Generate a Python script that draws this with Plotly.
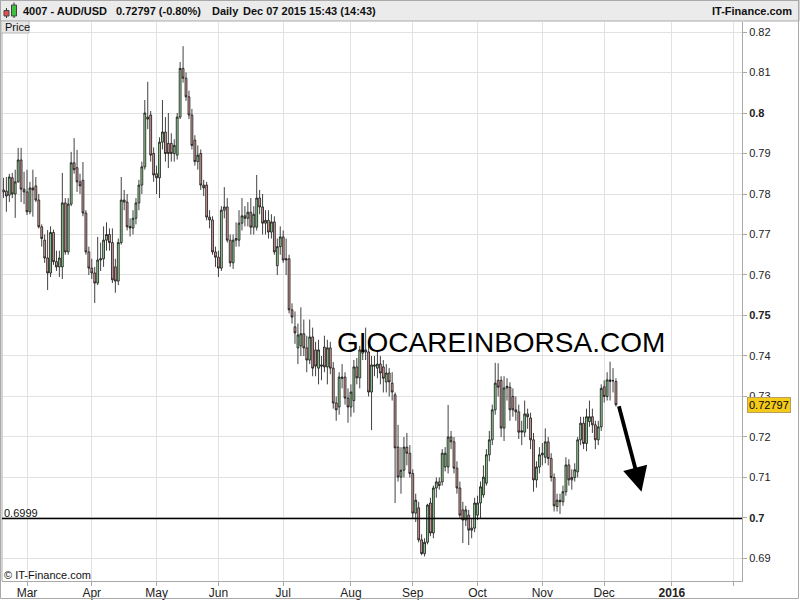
import plotly.graph_objects as go
import pandas as pd

# ---------------- data (AUD/USD daily) ----------------
opens = [
    .7810, .7807, .7797, .7840, .7800, .7830, .7884, .7812,
    .7805, .7756, .7815, .7820, .7785, .7719, .7686, .7642, .7605, .7705, .7633, .7620, .7620, .7778, .7657, .7775, .7877, .7865, .7830, .7834, .7753, .7657,
    .7617, .7605, .7580, .7637, .7640, .7686, .7700, .7680, .7620, .7585, .7680, .7785, .7780, .7720, .7716, .7740, .7778, .7822, .7867, .7990, .7995, .7900,
    .7850, .7840, .7928, .7953, .7925, .7925, .7900, .7896, .7990, .8110, .8086, .8040, .7995, .7933, .7880, .7900, .7822, .7822, .7743, .7736, .7657,
    .7644, .7617, .7760, .7768, .7686, .7630, .7686, .7686, .7728, .7746, .7740, .7755, .7718, .7718, .7790, .7768, .7728, .7735, .7706, .7731, .7623, .7670,
    .7694, .7637, .7640, .7514, .7472, .7420, .7425, .7455, .7420, .7390, .7447, .7415, .7370, .7378, .7422, .7373, .7420, .7370, .7284, .7274, .7348, .7348, .7296,
    .7274, .7290, .7373, .7346, .7407, .7415, .7410, .7311, .7378, .7370, .7380, .7373, .7336, .7358, .7333, .7304, .7175, .7101, .7118, .7175, .7160,
    .7110, .7012, .7025, .6946, .6912, .6940, .7037, .6963, .7074, .7089, .7089, .7126, .7126, .7200, .7188, .7123, .7074, .7020, .6995, .7007, .6970, .6975,
    .7007, .7037, .7057, .7086, .7156, .7193, .7267, .7340, .7340, .7222, .7321, .7323, .7300, .7267, .7262, .7212, .7212, .7257, .7247, .7193, .7094, .7126,
    .7156, .7150, .7188, .7147, .7100, .7028, .7044, .7040, .7065, .7131, .7094, .7100, .7114, .7193, .7234, .7184, .7238, .7250, .7230, .7193, .7225,
    .7324, .7300, .7337, .7339, .7337,
]
highs = [
    .7840, .7842, .7850, .7852, .7860, .7914, .7914, .7855,
    .7860, .7830, .7860, .7842, .7800, .7725, .7700, .7711, .7720, .7712, .7660, .7660, .7852, .7790, .7790, .7904, .7938, .7909, .7850, .7879, .7760, .7670,
    .7640, .7620, .7694, .7680, .7720, .7730, .7715, .7715, .7640, .7690, .7842, .7810, .7800, .7740, .7760, .7790, .7835, .7880, .8032, .8077, .8005, .7915,
    .7870, .7940, .8032, .7990, .8000, .7950, .7935, .8000, .8126, .8165, .8100, .8055, .8010, .7945, .7920, .7910, .7835, .7830, .7760, .7745, .7670,
    .7660, .7770, .7817, .7790, .7700, .7700, .7730, .7760, .7790, .7770, .7780, .7790, .7770, .7847, .7810, .7800, .7760, .7760, .7750, .7745, .7690, .7720,
    .7710, .7690, .7650, .7530, .7510, .7480, .7520, .7490, .7450, .7490, .7470, .7435, .7440, .7400, .7450, .7440, .7435, .7385, .7300, .7360, .7380, .7360, .7320,
    .7330, .7390, .7395, .7425, .7440, .7470, .7435, .7400, .7400, .7410, .7400, .7390, .7380, .7370, .7360, .7310, .7230, .7175, .7200, .7210, .7180,
    .7120, .7060, .7040, .6960, .6950, .7035, .7050, .7080, .7100, .7100, .7170, .7175, .7279, .7215, .7200, .7140, .7090, .7040, .7030, .7020, .7000, .7050,
    .7055, .7090, .7130, .7170, .7215, .7280, .7383, .7382, .7350, .7350, .7345, .7335, .7320, .7300, .7280, .7240, .7290, .7270, .7260, .7210, .7140, .7175,
    .7185, .7221, .7200, .7160, .7110, .7060, .7060, .7080, .7150, .7145, .7120, .7135, .7200, .7250, .7250, .7270, .7290, .7270, .7240, .7240, .7330,
    .7340, .7360, .7386, .7370, .7345,
]
lows = [
    .7790, .7756, .7780, .7790, .7741, .7828, .7780, .7775,
    .7748, .7750, .7744, .7780, .7715, .7670, .7630, .7563, .7595, .7625, .7610, .7595, .7590, .7650, .7650, .7770, .7850, .7805, .7800, .7745, .7650, .7600,
    .7590, .7531, .7575, .7610, .7620, .7660, .7660, .7580, .7556, .7575, .7675, .7760, .7710, .7695, .7700, .7725, .7760, .7800, .7860, .7960, .7880, .7830,
    .7800, .7790, .7910, .7880, .7864, .7880, .7880, .7885, .7985, .8075, .8030, .7985, .7910, .7870, .7860, .7810, .7795, .7735, .7715, .7650, .7620,
    .7595, .7610, .7740, .7680, .7620, .7615, .7670, .7670, .7710, .7720, .7720, .7700, .7700, .7710, .7750, .7700, .7700, .7690, .7690, .7650, .7600, .7650,
    .7630, .7600, .7505, .7480, .7430, .7380, .7400, .7400, .7360, .7380, .7350, .7350, .7330, .7340, .7360, .7330, .7355, .7270, .7240, .7255, .7320, .7280, .7235,
    .7250, .7260, .7330, .7320, .7390, .7390, .7300, .7217, .7350, .7345, .7330, .7310, .7310, .7300, .7290, .7037, .7090, .7060, .7100, .7130, .7100,
    .7000, .6990, .6940, .6908, .6905, .6935, .6955, .6950, .7050, .7070, .7080, .7115, .7110, .7170, .7110, .7060, .7000, .6938, .6980, .6933, .6950, .6965,
    .6995, .7000, .7050, .7080, .7140, .7180, .7255, .7300, .7200, .7190, .7290, .7240, .7250, .7240, .7195, .7180, .7200, .7220, .7170, .7065, .7075, .7110,
    .7130, .7135, .7130, .7090, .7016, .7016, .7010, .7030, .7055, .7080, .7070, .7090, .7100, .7180, .7170, .7165, .7225, .7210, .7170, .7180, .7215,
    .7285, .7290, .7290, .7310, .7275,
]
closes = [
    .7805, .7795, .7842, .7800, .7830, .7884, .7812, .7805,
    .7756, .7815, .7810, .7785, .7719, .7690, .7642, .7605, .7705, .7633, .7620, .7642, .7778, .7657, .7775, .7877, .7860, .7830, .7820, .7753, .7657, .7617,
    .7605, .7580, .7637, .7640, .7686, .7700, .7680, .7588, .7585, .7680, .7785, .7780, .7719, .7716, .7740, .7778, .7822, .7867, .8000, .7985, .7896, .7847,
    .7840, .7928, .7953, .7900, .7900, .7900, .7920, .7990, .8110, .8086, .8040, .7995, .7920, .7880, .7896, .7822, .7815, .7743, .7736, .7657, .7644,
    .7617, .7760, .7768, .7686, .7630, .7686, .7690, .7728, .7746, .7740, .7755, .7718, .7750, .7790, .7768, .7728, .7735, .7706, .7731, .7657, .7670, .7694,
    .7637, .7640, .7514, .7496, .7457, .7452, .7455, .7420, .7390, .7447, .7370, .7375, .7415, .7375, .7373, .7420, .7370, .7284, .7267, .7348, .7345, .7296, .7274,
    .7311, .7373, .7346, .7415, .7415, .7410, .7311, .7378, .7375, .7380, .7358, .7345, .7358, .7336, .7311, .7173, .7101, .7118, .7175, .7160, .7110,
    .7012, .7044, .6946, .6912, .6940, .7032, .6963, .7074, .7089, .7080, .7160, .7160, .7200, .7188, .7123, .7074, .7007, .6995, .7020, .6970, .6975, .7037,
    .7037, .7077, .7101, .7156, .7193, .7267, .7333, .7323, .7222, .7321, .7325, .7267, .7267, .7262, .7212, .7215, .7257, .7250, .7193, .7094, .7126, .7156,
    .7160, .7188, .7147, .7100, .7030, .7044, .7040, .7065, .7131, .7094, .7100, .7119, .7193, .7234, .7184, .7250, .7250, .7230, .7193, .7225, .7320,
    .7300, .7341, .7341, .7339, .72797,
]

month_starts = ["2015-03-01", "2015-04-01", "2015-05-01", "2015-06-01", "2015-07-01", "2015-08-01",
                "2015-09-01", "2015-10-01", "2015-11-01", "2015-12-01", "2016-01-01", "2016-02-01"]
month_labels = ["Mar", "Apr", "May", "Jun", "Jul", "Aug", "Sep", "Oct", "Nov", "Dec", "<b>2016</b>", ""]

price_ticks = [0.69, 0.70, 0.71, 0.72, 0.73, 0.74, 0.75, 0.76, 0.77, 0.78, 0.79, 0.80, 0.81, 0.82]
price_labels = ["0.69", "<b>0.7</b>", "0.71", "0.72", "0.73", "0.74", "<b>0.75</b>", "0.76", "0.77",
                "0.78", "0.79", "<b>0.8</b>", "0.81", "0.82"]

last_price = 0.72797
support_level = 0.6999

# ---------------- axes positions (trading-day index) ----------------
dates = pd.bdate_range("2015-02-18", "2015-12-07")
xpos = list(range(len(dates)))
axis_days = pd.bdate_range("2015-02-18", "2016-02-12")
tick_pos = [int(axis_days.searchsorted(pd.Timestamp(m))) for m in month_starts]

W, H = 800, 600
ML, MR, MT, MB = 2, 58, 22, 19
PW, PH = W - ML - MR, H - MT - MB
XR = [-0.49, 250.8]
YR = [0.68444, 0.82247]


def px(x):
    return (x - ML) / PW


def py(y):
    return (H - MB - y) / PH


def x_of(pxl):
    return XR[0] + (pxl - ML) / PW * (XR[1] - XR[0])


def y_of(pyl):
    return YR[1] - (pyl - MT) / PH * (YR[1] - YR[0])


FONT = "Liberation Sans, Arial, sans-serif"
GREEN = "#98d598"
PINK = "#dba0a0"

fig = go.Figure()
fig.add_trace(go.Candlestick(
    x=xpos, open=opens, high=highs, low=lows, close=closes,
    text=[d.strftime("%b %d %Y") for d in dates],
    increasing=dict(fillcolor=GREEN, line=dict(color="#111111", width=0.8)),
    decreasing=dict(fillcolor=PINK, line=dict(color="#111111", width=0.8)),
    whiskerwidth=0, showlegend=False,
))

shapes = [
    # header bar
    dict(type="rect", xref="paper", yref="paper", x0=px(0), x1=px(799), y0=py(21), y1=py(0),
         fillcolor="#ebebeb", line=dict(color="#a9a9a9", width=1), layer="below"),
    # outer frame
    dict(type="rect", xref="paper", yref="paper", x0=px(0.5), x1=px(798.5), y0=py(598.5), y1=py(0.5),
         line=dict(color="#a9a9a9", width=1), fillcolor="rgba(0,0,0,0)"),
    # left plot border
    dict(type="line", xref="paper", yref="paper", x0=0, x1=0, y0=0, y1=1,
         line=dict(color="#a9a9a9", width=1)),
    # Price label box
    dict(type="rect", xref="paper", yref="paper", x0=px(1), x1=px(29), y0=py(33), y1=py(21),
         fillcolor="#e6e6e6", line=dict(color="#b8b8b8", width=1)),
    # support line
    dict(type="line", xref="paper", yref="y", x0=0, x1=1, y0=support_level, y1=support_level,
         line=dict(color="black", width=1.5)),
    # header icon: small red candle
    dict(type="line", xref="paper", yref="paper", x0=px(6.5), x1=px(6.5), y0=py(18), y1=py(8),
         line=dict(color="#333", width=1)),
    dict(type="rect", xref="paper", yref="paper", x0=px(4), x1=px(9), y0=py(16), y1=py(10.5),
         fillcolor="#e05050", line=dict(color="#444", width=1)),
    # header icon: green candle
    dict(type="line", xref="paper", yref="paper", x0=px(14), x1=px(14), y0=py(18), y1=py(2.5),
         line=dict(color="#333", width=1)),
    dict(type="rect", xref="paper", yref="paper", x0=px(11.5), x1=px(16.5), y0=py(16), y1=py(5),
         fillcolor="#40c040", line=dict(color="#444", width=1)),
]


def label(text, x, y, size=11, anchor="left", color="#111", **kw):
    return dict(text=text, xref="paper", yref="paper", x=px(x), y=py(y), xanchor=anchor,
                yanchor="middle", showarrow=False, font=dict(family=FONT, size=size, color=color), **kw)


annotations = [
    label("<b>4007 - AUD/USD</b>", 21, 11.5, size=11),
    label("<b>0.72797 (-0.80%)</b>", 114, 11.5, size=11),
    label("<b>Daily</b>", 209.5, 11.5, size=11),
    label("<b>Dec 07 2015 15:43 (14:43)</b>", 241, 11.5, size=11),
    label("<b>IT-Finance.com</b>", 794, 11.5, size=11, anchor="right"),
    label("Price", 2.5, 27, size=11),
    label("0.6999", 2, 513, size=11),
    label("© IT-Finance.com", 2, 575, size=11),
    label("GIOCAREINBORSA.COM", 501, 342, size=28, anchor="center", color="black"),
    dict(text="0.72797", xref="paper", yref="y", x=px(747), y=last_price, xanchor="left", yanchor="middle",
         showarrow=False, bgcolor="#f3c91a", bordercolor="#b9a05a", borderwidth=1, borderpad=1,
         font=dict(family=FONT, size=11, color="black")),
    dict(text="", xref="x", yref="y", x=x_of(641.5), y=y_of(491.7), ax=-23, ay=-87,
         showarrow=True, arrowhead=2, arrowsize=1.3, arrowwidth=3.8, arrowcolor="black"),
]

fig.update_layout(
    width=W, height=H, margin=dict(l=ML, r=MR, t=MT, b=MB, pad=0, autoexpand=False),
    paper_bgcolor="white", plot_bgcolor="white", boxgap=0.1,
    font=dict(family=FONT, size=11, color="#222"),
    showlegend=False, shapes=shapes, annotations=annotations,
    xaxis=dict(range=XR, tickmode="array", tickvals=tick_pos, ticktext=month_labels,
               showgrid=True, gridcolor="#e2e2e2", gridwidth=1, zeroline=False,
               showline=True, linecolor="#a9a9a9", linewidth=1,
               ticks="outside", ticklen=4, tickcolor="#a9a9a9", automargin=False,
               ticklabelstandoff=-3,
               tickfont=dict(family=FONT, size=12, color="#222"),
               rangeslider=dict(visible=False), fixedrange=True),
    yaxis=dict(range=YR, side="right", tickmode="array", tickvals=price_ticks, ticktext=price_labels,
               showgrid=True, gridcolor="#e2e2e2", gridwidth=1, zeroline=False,
               showline=True, linecolor="#a9a9a9", linewidth=1, automargin=False,
               ticks="outside", ticklen=4, tickcolor="#a9a9a9",
               tickfont=dict(family=FONT, size=11, color="#222"), fixedrange=True),
)

fig.write_html("out.html", config={"displayModeBar": False},
               post_script="document.body.style.margin='0';")
